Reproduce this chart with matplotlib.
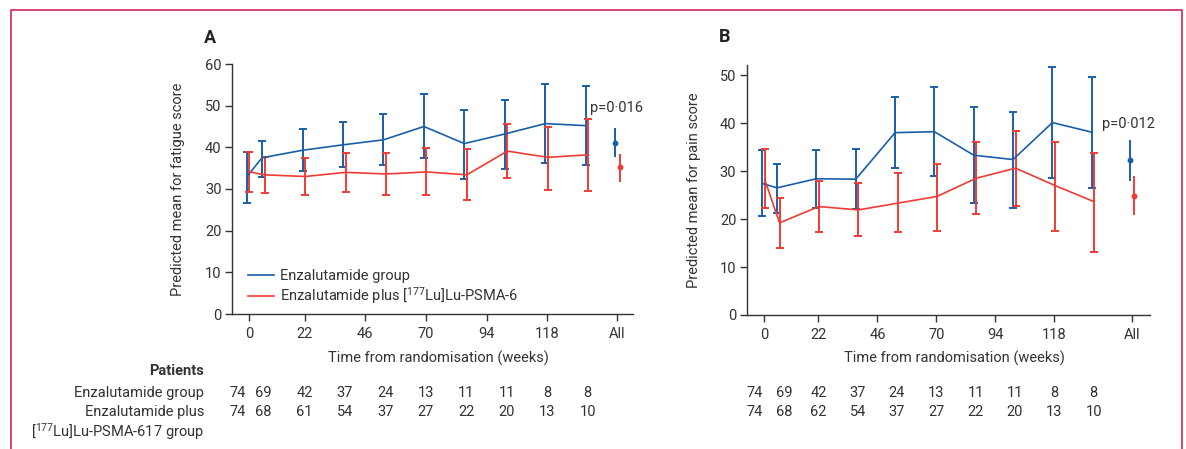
import matplotlib
matplotlib.use("Agg")
import matplotlib.pyplot as plt
import matplotlib.transforms as mtransforms
from matplotlib.lines import Line2D
import numpy as np

# ---------------- data ----------------
weeks = [0, 6, 22, 38, 54, 70, 86, 102, 118, 134]
xtick_weeks = [0, 22, 46, 70, 94, 118]
xtick_labels = ["0", "22", "46", "70", "94", "118", "All"]

# Panel A: fatigue
fat_enz_mean = [33.0, 37.5, 39.3, 40.6, 41.8, 45.0, 40.9, 43.2, 45.7, 45.2]
fat_enz_low = [26.6, 33.0, 34.2, 35.3, 35.7, 37.5, 32.5, 34.8, 36.2, 35.8]
fat_enz_high = [38.8, 41.6, 44.4, 46.0, 48.0, 52.9, 49.0, 51.4, 55.3, 54.6]
fat_lu_mean = [34.1, 33.4, 33.0, 34.0, 33.6, 34.1, 33.4, 39.1, 37.6, 38.2]
fat_lu_low = [29.3, 29.1, 28.5, 29.4, 28.5, 28.5, 27.3, 32.7, 29.8, 29.6]
fat_lu_high = [38.8, 37.8, 37.5, 38.7, 38.7, 39.9, 39.7, 45.6, 45.0, 46.8]
fat_enz_all = [41.1, 37.7, 44.6]   # mean, low, high
fat_lu_all = [35.2, 31.8, 38.5]

# Panel B: pain
pain_enz_mean = [27.4, 26.5, 28.4, 28.3, 38.0, 38.2, 33.3, 32.4, 40.1, 38.1]
pain_enz_low = [20.7, 21.2, 22.4, 22.1, 30.7, 29.0, 23.4, 22.4, 28.5, 26.5]
pain_enz_high = [34.4, 31.5, 34.4, 34.6, 45.4, 47.6, 43.4, 42.3, 51.6, 49.6]
pain_lu_mean = [28.2, 19.2, 22.6, 21.9, 23.3, 24.7, 28.5, 30.6, 27.0, 23.6]
pain_lu_low = [22.3, 13.9, 17.2, 16.5, 17.2, 17.6, 21.1, 22.8, 17.6, 13.2]
pain_lu_high = [34.6, 24.3, 28.0, 27.6, 29.5, 31.5, 36.0, 38.3, 36.0, 33.8]
pain_enz_all = [32.3, 28.0, 36.5]
pain_lu_all = [24.9, 20.9, 28.9]

# patients at risk
n_enz_A = [74, 69, 42, 37, 24, 13, 11, 11, 8, 8]
n_lu_A = [74, 68, 61, 54, 37, 27, 22, 20, 13, 10]
n_enz_B = [74, 69, 42, 37, 24, 13, 11, 11, 8, 8]
n_lu_B = [74, 68, 62, 54, 37, 27, 22, 20, 13, 10]

p_A = "p=0·016"
p_B = "p=0·012"
legend_labels = ["Enzalutamide group", "Enzalutamide plus [$^{177}$Lu]Lu-PSMA-6"]

# ---------------- style ----------------
FONT = "Roboto"
plt.rcParams["font.family"] = [FONT, "DejaVu Sans"]
plt.rcParams["mathtext.fontset"] = "custom"
plt.rcParams["mathtext.rm"] = FONT
plt.rcParams["mathtext.it"] = FONT + ":italic"
plt.rcParams["mathtext.bf"] = FONT + ":bold"
FS = 10.5
TXT = "#333333"
BLUE = "#1b5ea8"
RED = "#ef3b35"

W, H = 1186, 449
fig = plt.figure(figsize=(W / 100, H / 100), dpi=100)


def fx(px):
    return px / W


def fy(py):
    return 1 - py / H


axA = fig.add_axes([fx(232), fy(314), (633 - 232) / W, (314 - 64) / H])
axB = fig.add_axes([fx(746.7), fy(315), (1150 - 746.7) / W, (315 - 65) / H])

dodge_enz, dodge_lu = -0.8, 0.2


def panel(ax, enz, lu, enz_all, lu_all, all_x, xlim, ylim, yticks, ylabel, ptxt, pxy):
    w = np.array(weeks, dtype=float)
    for (m, lo, hi), col, dx in [(enz, BLUE, dodge_enz), (lu, RED, dodge_lu)]:
        m, lo, hi = map(np.array, (m, lo, hi))
        ax.errorbar(w + dx, m, yerr=[m - lo, hi - m], color=col, lw=1.2,
                    elinewidth=1.4, capsize=2.6, capthick=1.4, zorder=3)
    for (m, lo, hi), col, dx in [(enz_all, BLUE, dodge_enz), (lu_all, RED, dodge_lu + 0.8)]:
        ax.errorbar([all_x + dx], [m], yerr=[[m - lo], [hi - m]], color=col, fmt="o",
                    ms=3.2, elinewidth=1.4, capsize=0, zorder=3)
    ax.set_xlim(*xlim)
    ax.set_ylim(*ylim)
    ax.set_xticks(xtick_weeks + [all_x])
    ax.set_xticklabels(xtick_labels)
    ax.set_yticks(yticks)
    for s in ["top", "right"]:
        ax.spines[s].set_visible(False)
    for s in ["left", "bottom"]:
        ax.spines[s].set_linewidth(1.0)
        ax.spines[s].set_color("#333333")
    ax.tick_params(direction="out", length=5, width=1, colors="#333333",
                   labelsize=FS, labelcolor=TXT, pad=2.5)
    ax.tick_params(axis="x", pad=4.5)
    ax.set_ylabel(ylabel, fontsize=FS, color=TXT)
    ax.set_xlabel("Time from randomisation (weeks)", fontsize=FS, color=TXT)
    ax.text(pxy[0], pxy[1], ptxt, fontsize=FS, color=TXT, va="center", ha="left")


panel(axA, (fat_enz_mean, fat_enz_low, fat_enz_high), (fat_lu_mean, fat_lu_low, fat_lu_high),
      fat_enz_all, fat_lu_all, 145.6, (-6.7, 151.9), (0, 60), range(0, 61, 10),
      "Predicted mean for fatigue score", p_A, (135, 49.5))
panel(axB, (pain_enz_mean, pain_enz_low, pain_enz_high), (pain_lu_mean, pain_lu_low, pain_lu_high),
      pain_enz_all, pain_lu_all, 149.5, (-7.16, 156.9), (0, 52.1), range(0, 51, 10),
      "Predicted mean for pain score", p_B, (137.5, 39.8))

axA.yaxis.set_label_coords(-0.117, 0.5)
axB.yaxis.set_label_coords(-0.113, 0.5)
axA.xaxis.set_label_coords(0.515, -0.145)
axB.xaxis.set_label_coords(0.515, -0.141)

# legend
handles = [Line2D([], [], color=BLUE, lw=1.2), Line2D([], [], color=RED, lw=1.2)]
axA.legend(handles, legend_labels, loc="upper left", bbox_to_anchor=(0.04, 0.18),
           frameon=False, fontsize=FS, handlelength=1.8, handletextpad=0.4,
           borderpad=0, borderaxespad=0, labelspacing=0.15, labelcolor=TXT)

# panel letters
fig.text(fx(209.5), fy(38), "A", fontsize=13, fontweight="bold", color="#222222",
         ha="center", va="center")
fig.text(fx(725), fy(37), "B", fontsize=13, fontweight="bold", color="#222222",
         ha="center", va="center")

# numbers at risk table
label_shift_A = [-4.5, -0.5, 0, 0, 0, 0, 0, 0, 0, 0]
label_shift_B = [-4.0, 2.0, 0, 0, 0, 0, 0, 0, 0, 0]
for ax, ne, nl, sh in [(axA, n_enz_A, n_lu_A, label_shift_A), (axB, n_enz_B, n_lu_B, label_shift_B)]:
    tr = mtransforms.blended_transform_factory(ax.transData, fig.transFigure)
    for wk, a, b, s in zip(weeks, ne, nl, sh):
        ax.text(wk + s, fy(393), str(a), transform=tr, ha="center", va="center",
                fontsize=FS, color=TXT, clip_on=False)
        ax.text(wk + s, fy(412), str(b), transform=tr, ha="center", va="center",
                fontsize=FS, color=TXT, clip_on=False)

fig.text(fx(204), fy(371), "Patients", fontsize=FS, fontweight="bold", color=TXT,
         ha="right", va="center")
fig.text(fx(204), fy(393), "Enzalutamide group", fontsize=FS, color=TXT, ha="right", va="center")
fig.text(fx(204), fy(412), "Enzalutamide plus", fontsize=FS, color=TXT, ha="right", va="center")
fig.text(fx(204), fy(432), "[$^{177}$Lu]Lu-PSMA-617 group", fontsize=FS, color=TXT,
         ha="right", va="center")

# outer frame
frame = Line2D([fx(11), fx(11), fx(1182), fx(1182)], [fy(449), fy(10), fy(10), fy(449)],
               transform=fig.transFigure, color="#d6336c", lw=1.3)
fig.add_artist(frame)

fig.savefig("out.png", dpi=100, facecolor="white")
